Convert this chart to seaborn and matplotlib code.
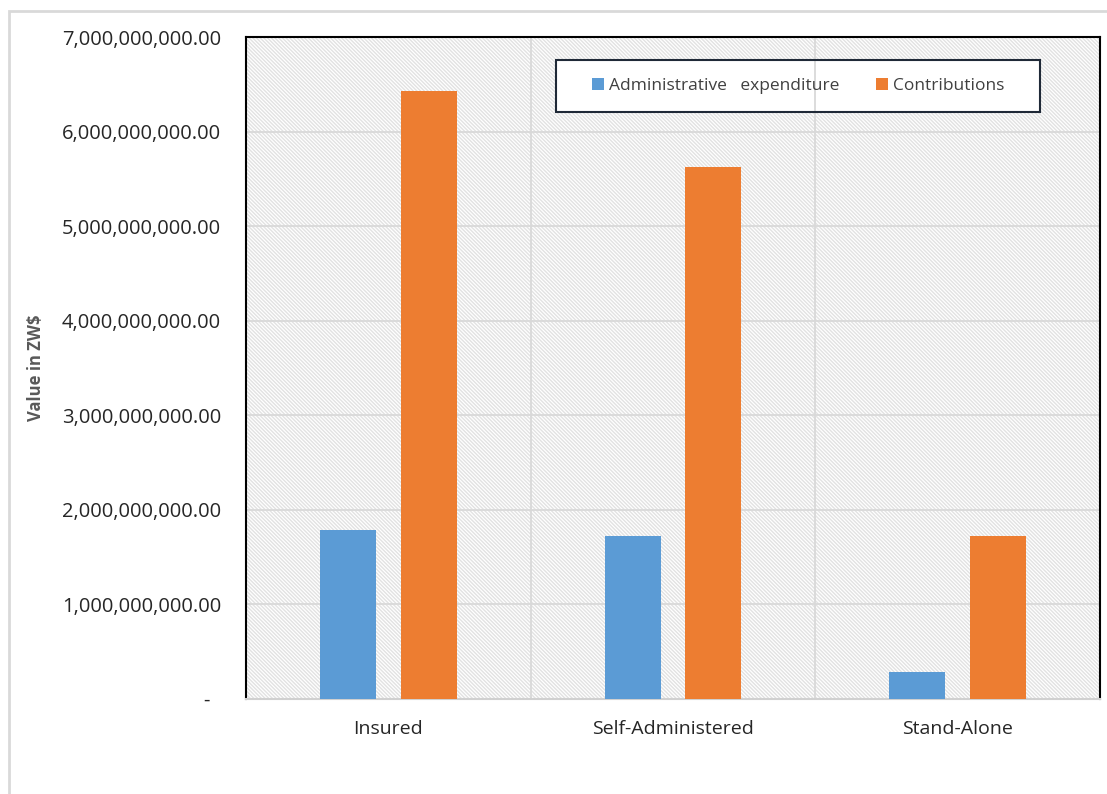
import matplotlib
matplotlib.use("Agg")
import matplotlib.pyplot as plt
from matplotlib.patches import Rectangle
from matplotlib.ticker import FuncFormatter, MultipleLocator
import seaborn as sns
import pandas as pd

# Scheme types and the two reported series (ZW$)
categories = ["Insured", "Self-Administered", "Stand-Alone"]
series_names = ["Administrative   expenditure", "Contributions"]
admin_expenditure = [1.79e9, 1.72e9, 0.29e9]
contributions = [6.43e9, 5.63e9, 1.72e9]

colors = ["#5B9BD5", "#ED7D31"]

df = pd.DataFrame({
    "Scheme": categories * 2,
    "Series": [series_names[0]] * 3 + [series_names[1]] * 3,
    "Value": admin_expenditure + contributions,
})

sns.set_theme(style="white")
plt.rcParams["font.family"] = ["Open Sans", "DejaVu Sans"]
plt.rcParams["hatch.color"] = "#e2e2e2"
plt.rcParams["hatch.linewidth"] = 1.0

fig = plt.figure(figsize=(11.07, 7.94), dpi=100)
ax = fig.add_axes([246 / 1107, 1 - 699 / 794, 854 / 1107, 662 / 794])

# light outer chart frame
fig.patches.append(Rectangle((9 / 1107, -0.05), 1.2, 1 - 11 / 794 + 0.05,
                             transform=fig.transFigure, fill=False,
                             edgecolor="#d9d9d9", linewidth=2, zorder=0))

# patterned plot-area background
ax.set_facecolor("white")
ax.add_patch(Rectangle((0, 0), 1, 1, transform=ax.transAxes, facecolor="white",
                       edgecolor="#e2e2e2", hatch="\\" * 9, linewidth=0, zorder=0.1))

sns.barplot(data=df, x="Scheme", y="Value", hue="Series", palette=colors,
            width=0.568, gap=0.306, ax=ax, saturation=1, legend=False,
            edgecolor="none", linewidth=0, zorder=3)

ax.set_ylim(0, 7e9)
ax.set_xlim(-0.5, 2.5)
ax.yaxis.set_major_locator(MultipleLocator(1e9))
ax.yaxis.set_major_formatter(FuncFormatter(lambda v, p: "-  " if v == 0 else f"{v:,.2f}"))

# gridlines: horizontal at each billion, vertical between categories
ax.set_axisbelow(True)
ax.grid(axis="y", color="#d9d9d9", linewidth=1.3, zorder=1)
for xb in [0.5, 1.5]:
    ax.axvline(xb, color="#d9d9d9", linewidth=1.3, zorder=1)

for side in ["left", "top", "right"]:
    ax.spines[side].set_color("#000000")
    ax.spines[side].set_linewidth(1.5)
ax.spines["bottom"].set_color("#d0d0d0")
ax.spines["bottom"].set_linewidth(1.5)

ax.tick_params(axis="y", length=0, pad=18, labelsize=14.5, labelcolor="#262626")
ax.tick_params(axis="x", length=0, pad=15, labelsize=14, labelcolor="#262626")
ax.set_xlabel("")
ax.set_ylabel("Value in ZW$", fontsize=12, fontweight="bold", color="#595959")
ax.yaxis.set_label_coords(-0.235, 0.5)

# legend box: white fill under the gridlines, dark outline on top
box = (0.363, 0.887, 0.567, 0.078)
ax.add_patch(Rectangle(box[:2], box[2], box[3], transform=ax.transAxes,
                       facecolor="white", edgecolor="none", zorder=0.5))
ax.add_patch(Rectangle(box[:2], box[2], box[3], transform=ax.transAxes,
                       facecolor="none", edgecolor="#1f2937", linewidth=1.5, zorder=5))

handles = [Rectangle((0, 0), 1, 1, facecolor=c, edgecolor="none") for c in colors]
leg = ax.legend(handles, series_names, ncol=2, loc="center",
                bbox_to_anchor=(box[0] + box[2] / 2, box[1] + box[3] / 2),
                fontsize=12.5, frameon=False, borderpad=0,
                handlelength=0.7, handleheight=0.7, handletextpad=0.3,
                columnspacing=2.1, labelcolor="#404040")
leg.set_zorder(5)

fig.savefig("out.png", dpi=100)
